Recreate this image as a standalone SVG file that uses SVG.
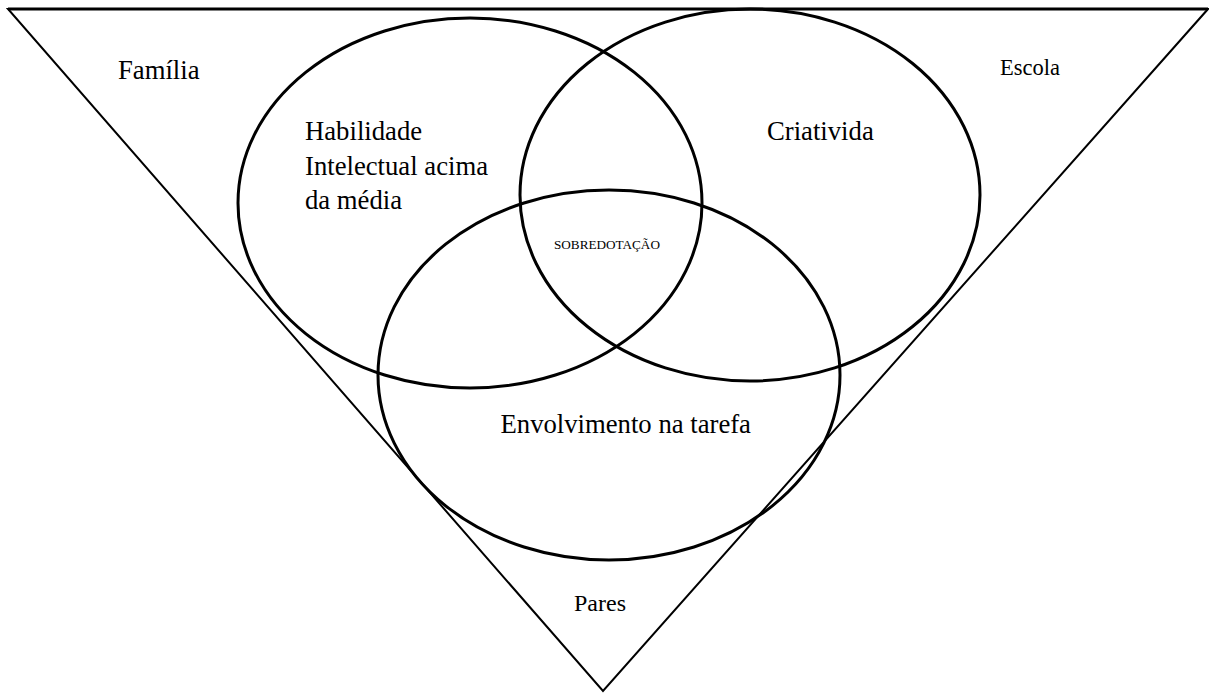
<svg xmlns="http://www.w3.org/2000/svg" width="1209" height="693" viewBox="0 0 1209 693">
<style>
.bg{fill:#ffffff}
.tri{fill:none;stroke:#000;stroke-width:2;stroke-linejoin:miter}
.top{stroke:#000;stroke-width:3.2}
.ell{fill:none;stroke:#000;stroke-width:3}
text{font-family:'Liberation Serif','Times New Roman',Times,serif;fill:#000}
.big{font-size:26.7px}
</style>
<rect class="bg" x="0" y="0" width="1209" height="693"/>
<g id="context" font-family="Liberation Serif, Times New Roman, serif">
<path class="tri" d="M8,9 L1208,9 L603,691 Z"/>
<line class="top" x1="8" y1="9" x2="1208" y2="9"/>
<text class="big" x="118" y="79" font-family="Liberation Serif, serif">Família</text>
<text x="1000" y="75" font-size="22.5" font-family="Liberation Serif, serif">Escola</text>
<text x="574" y="610.5" font-size="24" font-family="Liberation Serif, serif">Pares</text>
</g>
<g id="habilidade">
<ellipse class="ell" cx="470" cy="203" rx="232" ry="185"/>
<text class="big" x="305" y="140" font-family="Liberation Serif, serif">Habilidade</text>
<text class="big" x="305" y="175" font-family="Liberation Serif, serif">Intelectual acima</text>
<text class="big" x="305" y="209" font-family="Liberation Serif, serif">da média</text>
</g>
<g id="criatividade">
<ellipse class="ell" cx="750" cy="195" rx="230" ry="186"/>
<text class="big" x="767" y="140" font-family="Liberation Serif, serif">Criativida</text>
</g>
<g id="envolvimento">
<ellipse class="ell" cx="609" cy="375" rx="231" ry="185"/>
<text class="big" x="500.5" y="432.5" font-family="Liberation Serif, serif">Envolvimento na tarefa</text>
</g>
<g id="sobredotacao">
<text x="554" y="249" font-size="13.2" font-family="Liberation Serif, serif">SOBREDOTAÇÃO</text>
</g>
<g id="connectors"></g>
</svg>
